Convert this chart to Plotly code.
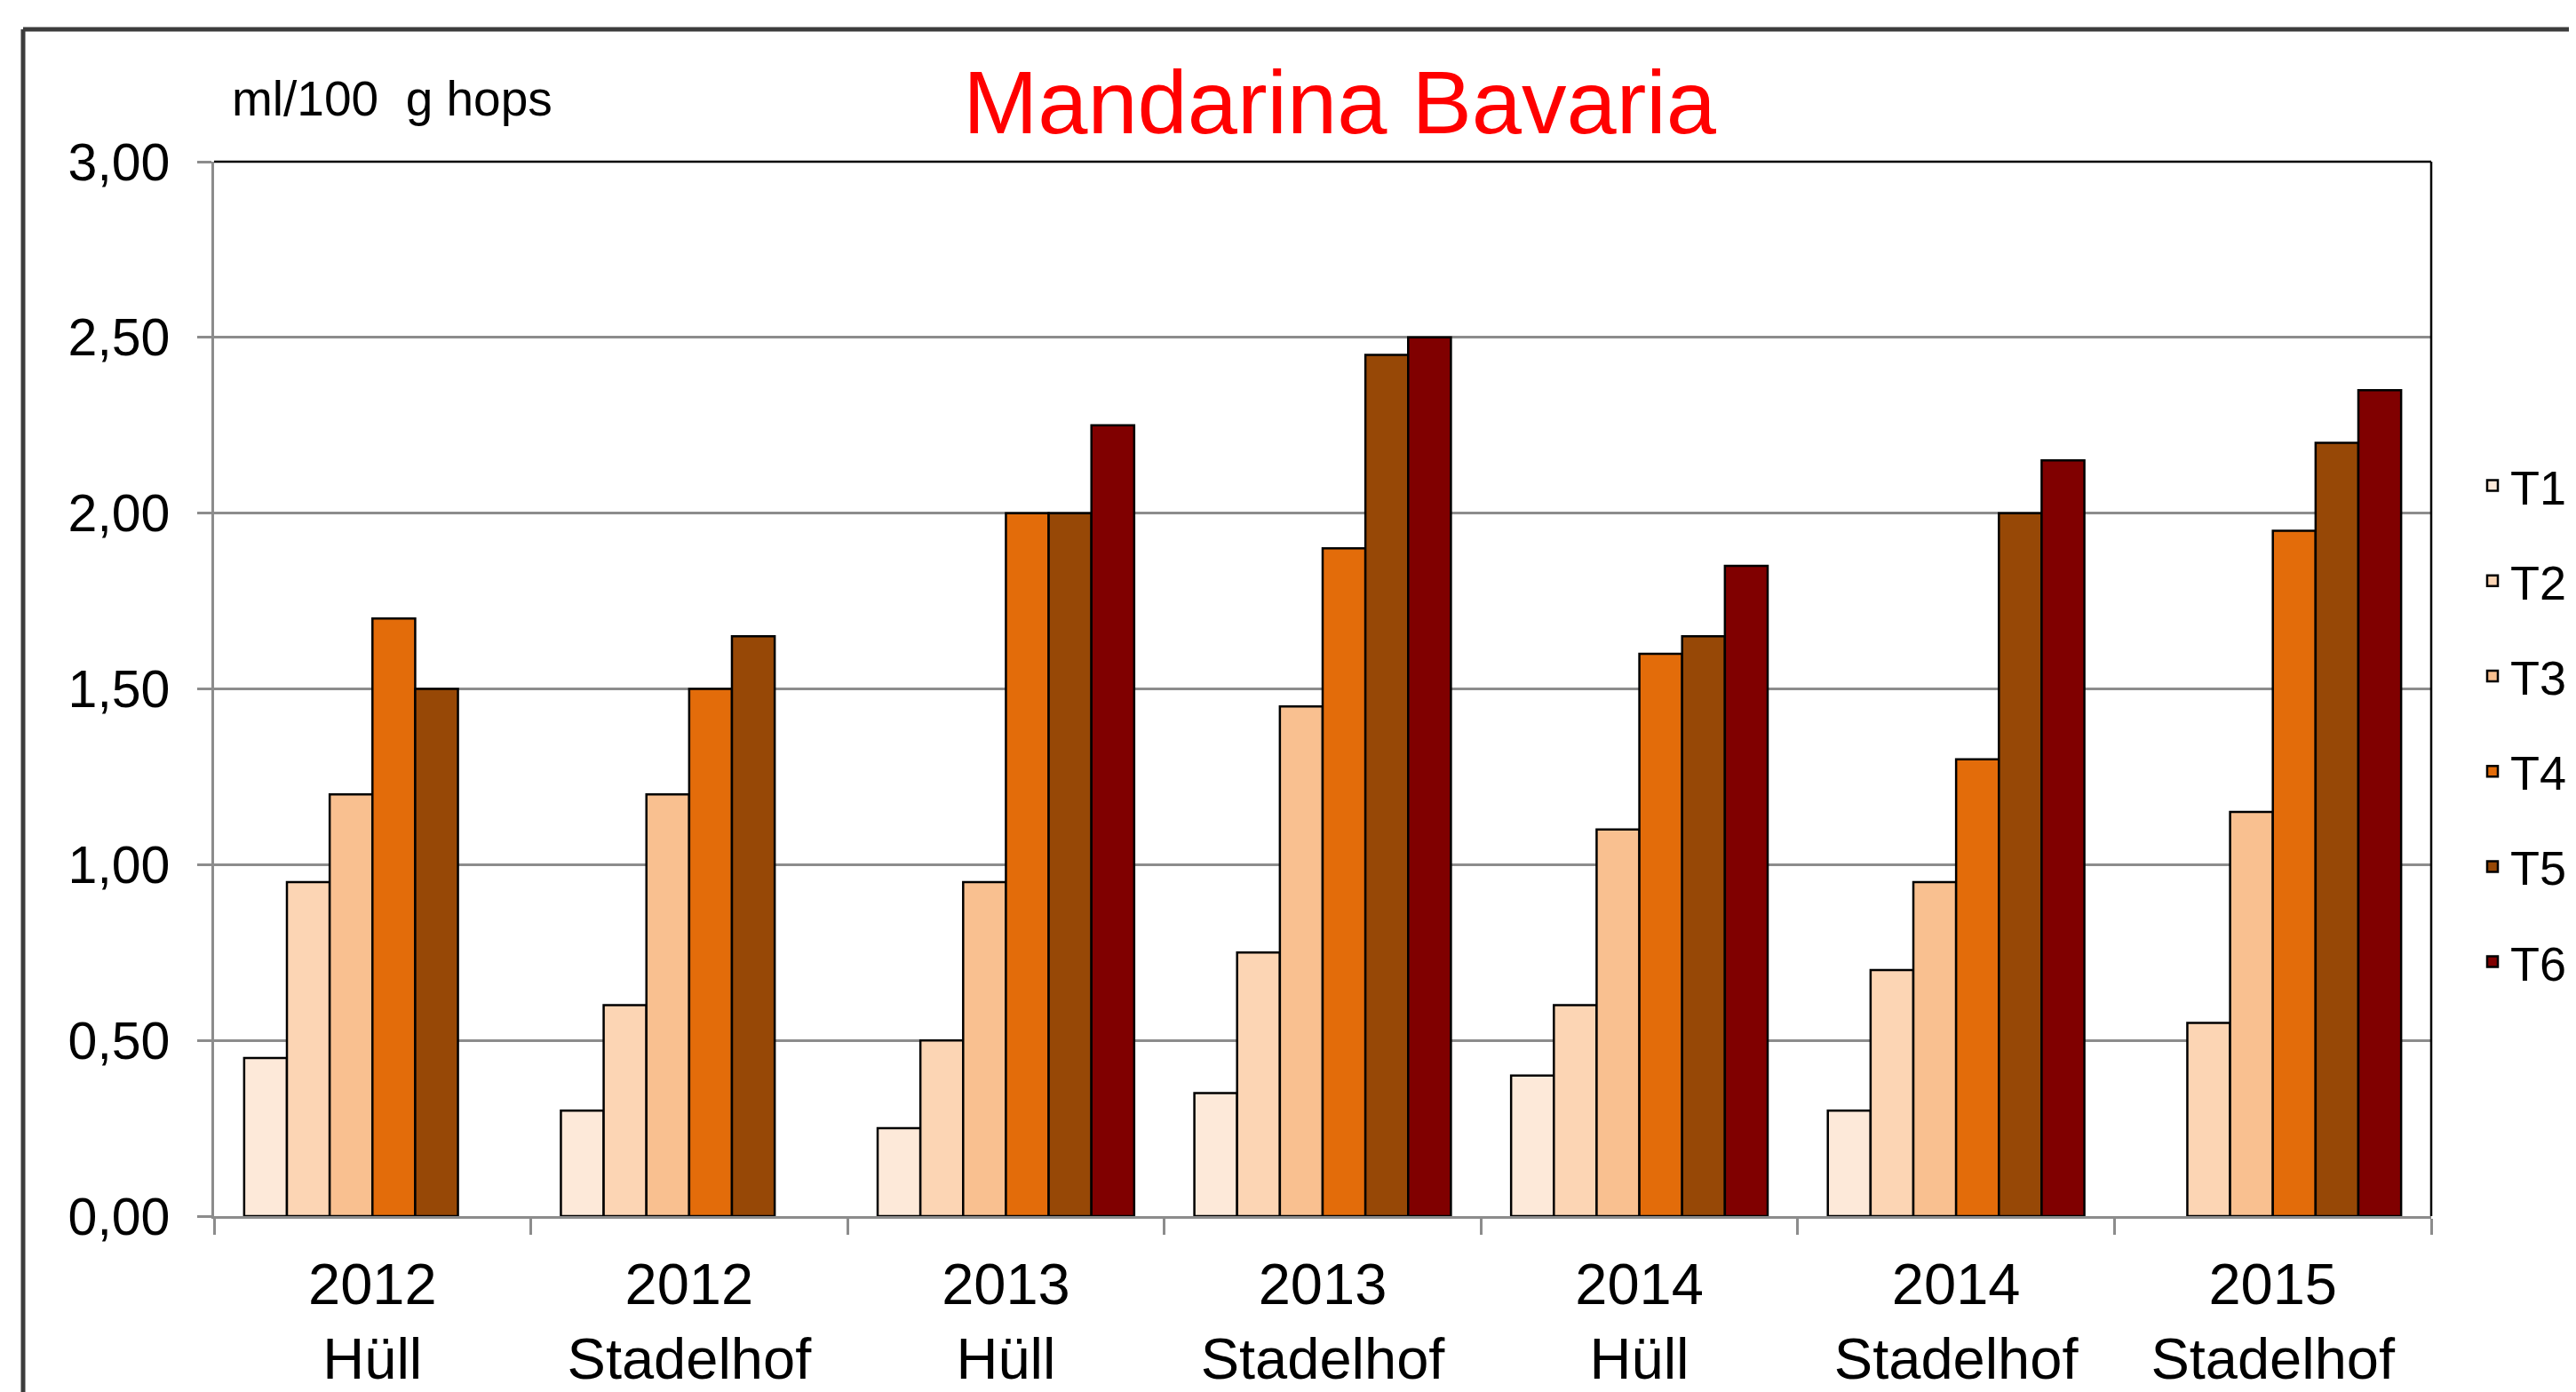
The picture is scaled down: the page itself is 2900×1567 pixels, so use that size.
import plotly.graph_objects as go

categories = ["2012<br>Hüll", "2012<br>Stadelhof", "2013<br>Hüll", "2013<br>Stadelhof",
              "2014<br>Hüll", "2014<br>Stadelhof", "2015<br>Stadelhof"]
series_names = ["T1", "T2", "T3", "T4", "T5", "T6"]
T1 = [0.45, 0.30, 0.25, 0.35, 0.40, 0.30, None]
T2 = [0.95, 0.60, 0.50, 0.75, 0.60, 0.70, 0.55]
T3 = [1.20, 1.20, 0.95, 1.45, 1.10, 0.95, 1.15]
T4 = [1.70, 1.50, 2.00, 1.90, 1.60, 1.30, 1.95]
T5 = [1.50, 1.65, 2.00, 2.45, 1.65, 2.00, 2.20]
T6 = [None, None, 2.25, 2.50, 1.85, 2.15, 2.35]
series_values = [T1, T2, T3, T4, T5, T6]
colors = ["#FDE9D9", "#FCD5B4", "#F9C090", "#E36C0A", "#974806", "#800000"]
ytick_vals = [0, 0.5, 1.0, 1.5, 2.0, 2.5, 3.0]

# page body has an 8px margin: figure is offset by 8px on screen
OFF = 8
W, H = 2900 - OFF, 1567 - OFF
# plot area in screen pixels: x 241..2737, y 182..1369
L, R, T, B = 241 - OFF, W - (2737 - OFF), 182 - OFF, H - (1369 - OFF)
pw, ph = W - L - R, H - T - B

def px_x(sx):
    return (sx - OFF - L) / pw

def px_y(sy):
    return (H - B - (sy - OFF)) / ph

FONT = "Liberation Sans, Arial, sans-serif"

fig = go.Figure()
for name, vals, col in zip(series_names, series_values, colors):
    fig.add_trace(go.Bar(
        name=name, x=categories, y=vals,
        marker=dict(color=col, line=dict(color="black", width=2.5)),
        legendgroup=name,
    ))

fig.update_layout(
    width=W, height=H,
    margin=dict(l=L, r=R, t=T, b=B, autoexpand=False),
    paper_bgcolor="white", plot_bgcolor="white",
    barmode="group", bargap=0.19, bargroupgap=0,
    separators=",.",
    font=dict(family=FONT, color="black", size=57),
    title=dict(text="Mandarina Bavaria", font=dict(family=FONT, size=101, color="#FF0000"),
               x=(1508 - OFF) / W, xref="container", xanchor="center",
               y=1 - (115 - OFF) / H, yref="container", yanchor="middle"),
    legend=dict(x=px_x(2786), xanchor="left", y=px_y(505), yanchor="top",
                font=dict(family=FONT, size=54, color="black"),
                tracegroupgap=34, bgcolor="rgba(0,0,0,0)", borderwidth=0),
    showlegend=True,
)

fig.update_yaxes(
    range=[0, 3.0], tickvals=ytick_vals, tickformat=".2f",
    showgrid=True, gridcolor="#8C8C8C", gridwidth=2.5,
    showline=True, linecolor="#8C8C8C", linewidth=2.5,
    ticks="outside", ticklen=16, tickcolor="#8C8C8C", tickwidth=2.5,
    tickfont=dict(family=FONT, size=59, color="black"),
    ticklabelstandoff=19, zeroline=False, automargin=False,
)
fig.update_xaxes(
    showline=True, linecolor="#8C8C8C", linewidth=2.5,
    ticks="outside", tickson="boundaries", ticklen=18, tickcolor="#8C8C8C", tickwidth=2.5,
    tickfont=dict(family=FONT, size=65, color="black"),
    ticklabelstandoff=18, automargin=False,
    showgrid=False,
)

# plot area top/right border (black)
fig.add_shape(type="line", xref="paper", yref="paper", x0=0, x1=1, y0=1, y1=1,
              line=dict(color="black", width=2.5))
fig.add_shape(type="line", xref="paper", yref="paper", x0=1, x1=1, y0=0, y1=1,
              line=dict(color="black", width=2.5))
# outer frame (partially cropped)
fig.add_shape(type="line", xref="paper", yref="paper", x0=px_x(26), x1=px_x(2910),
              y0=px_y(33), y1=px_y(33), line=dict(color="#3C3C3C", width=5))
fig.add_shape(type="line", xref="paper", yref="paper", x0=px_x(26), x1=px_x(26),
              y0=px_y(33), y1=px_y(1580), line=dict(color="#3C3C3C", width=5))

fig.add_annotation(text="ml/100  g hops", xref="paper", yref="paper",
                   x=px_x(259), y=px_y(111), xanchor="left", yanchor="middle",
                   showarrow=False, font=dict(family=FONT, size=55, color="black"))

fig.write_html("out.html")
